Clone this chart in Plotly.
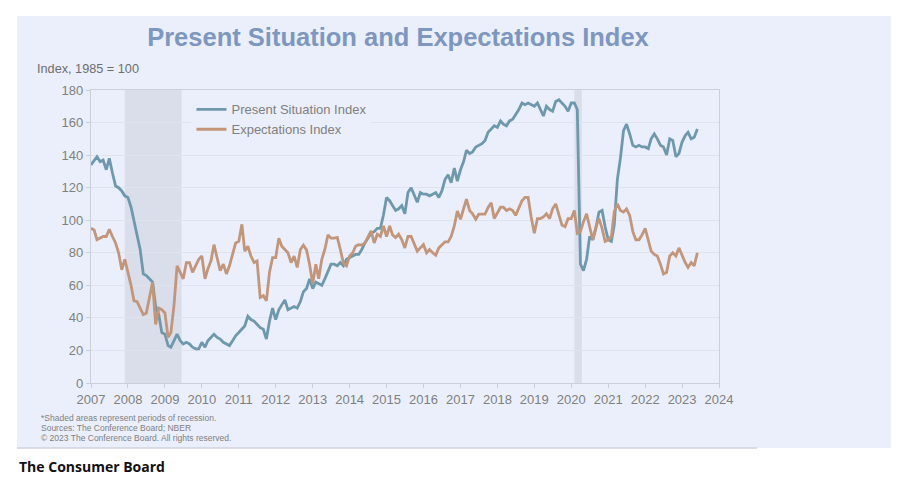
import pandas as pd
import plotly.graph_objects as go

# Monthly readings, Jan 2007 - Jun 2023 (Index, 1985 = 100)
present_situation = [
    134, 137, 139, 136, 137, 131, 138, 129, 121, 120, 118, 115,   # 2007
    114, 108, 99, 90, 82, 67, 66, 64, 62, 47, 42, 31,             # 2008
    30, 23, 22, 26, 30, 26, 24, 25, 24, 22, 21, 21,               # 2009
    25, 22, 26, 28, 30, 28, 27, 25, 24, 23, 26, 29,               # 2010
    31, 33, 35, 41, 39, 38, 36, 34, 33, 27, 38, 46,               # 2011
    39, 45, 48, 51, 45, 46, 47, 46, 50, 56, 58, 64,               # 2012
    58, 62, 61, 60, 64, 69, 73, 73, 72, 74, 72, 76,               # 2013
    77, 78, 79, 79, 82, 86, 89, 92, 93, 95, 95, 103,              # 2014
    114, 112, 109, 106, 107, 109, 104, 117, 120, 116, 111, 117,   # 2015
    116, 116, 115, 116, 117, 114, 118, 125, 128, 123, 132, 124,   # 2016
    131, 136, 143, 141, 142, 145, 146, 147, 149, 154, 156, 158,   # 2017
    157, 161, 159, 158, 161, 162, 165, 168, 172, 171, 172, 171,   # 2018
    170, 172, 168, 164, 170, 168, 167, 173, 174, 172, 170, 167,   # 2019
    172, 172, 168, 73, 69, 76, 90, 88, 95, 105, 106, 96,          # 2020
    88, 87, 97, 125, 138, 155, 159, 153, 146, 145, 146, 145,      # 2021
    145, 144, 150, 153, 150, 146, 145, 140, 150, 149, 139, 141,   # 2022
    148, 152, 154, 150, 151, 156,                                 # 2023
]

expectations = [
    95, 94, 88, 89, 90, 90, 94.5, 90, 86, 80, 69.5, 76,           # 2007
    68, 60, 50.5, 50, 46, 42, 43, 53.6, 62, 36, 46, 45,           # 2008
    43, 28, 31, 48, 72, 68, 64, 74, 74, 68, 72, 76,               # 2009
    78, 64, 70, 75, 85, 76, 69, 73, 67, 72, 79, 86,               # 2010
    87, 97.5, 81, 84, 78, 74, 75, 52.5, 53.6, 50.5, 68, 77,       # 2011
    77, 89, 84, 82, 80, 74, 78, 71, 82, 84.7, 81.8, 73,           # 2012
    61, 73, 64, 76, 82, 91, 89, 89, 89.4, 82, 73.6, 72,           # 2013
    78, 80, 84, 85, 84.7, 86, 90, 93.5, 86, 91.4, 90, 96.5,       # 2014
    90, 96.5, 91, 89.4, 91.4, 88, 83, 90, 90, 86, 81, 83,         # 2015
    85, 80, 82, 80, 78.5, 83, 84.7, 86.7, 86.7, 90, 96.5, 105.7,  # 2016
    100.6, 106.7, 113, 106, 104, 100.6, 103.7, 103.7, 103.7, 107.8, 110.8, 101,  # 2017
    105, 108, 108, 106, 107, 106, 103, 108, 112, 114, 114, 102,   # 2018
    92, 101, 101, 102, 104, 101, 107, 110, 104, 97, 96, 101,      # 2019
    101, 106, 92, 93, 99, 104, 96, 88, 96, 101, 95, 87,           # 2020
    88, 90, 105, 110, 106, 105, 107, 103, 93, 88, 88, 91,         # 2021
    95, 87, 81, 79, 78, 73, 67, 68, 78, 80, 78, 83,               # 2022
    78, 74, 71, 74, 72, 80,                                       # 2023
]

months = pd.date_range("2007-01-01", periods=len(present_situation), freq="MS")

recessions = [("2007-12-01", "2009-06-15"), ("2020-02-01", "2020-04-15")]

year_labels = [str(y) for y in range(2007, 2025)]
year_ticks = [f"{y}-01-01" for y in range(2007, 2025)]

footnotes = [
    "*Shaded areas represent periods of recession.",
    "Sources: The Conference Board; NBER",
    "\u00a9 2023 The Conference Board. All rights reserved.",
]

panel_bg = "#ebeffb"
grey_text = "#7f7f7f"

fig = go.Figure()

fig.add_trace(go.Scatter(
    x=months, y=present_situation, mode="lines",
    name="Present Situation Index",
    line=dict(color="#6e99ac", width=2.8),
))
fig.add_trace(go.Scatter(
    x=months, y=expectations, mode="lines",
    name="Expectations Index",
    line=dict(color="#c39579", width=2.8),
))

# lavender panel behind everything
fig.add_shape(type="rect", xref="paper", yref="paper",
              x0=-0.1178, x1=1.274, y0=-0.2218, y1=1.2526,
              fillcolor=panel_bg, line=dict(width=0), layer="below")
fig.add_shape(type="line", xref="paper", yref="paper",
              x0=-0.1178, x1=1.0605, y0=-0.2218, y1=-0.2218,
              line=dict(color="#cfd3de", width=1.5))

# recession shading
for start, end in recessions:
    fig.add_vrect(x0=start, x1=end, fillcolor="#dadeea", opacity=1,
                  line_width=0, layer="below")

fig.add_annotation(text="Index, 1985 = 100", xref="paper", yref="paper",
                   x=-0.0892, y=1.0717, xanchor="left", yanchor="middle",
                   showarrow=False, font=dict(size=12.7, color="#6e6e6e"))

for i, line in enumerate(footnotes):
    fig.add_annotation(text=line, xref="paper", yref="paper",
                       x=-0.0829, y=(383 - 418 - 10 * i) / 293,
                       xanchor="left", yanchor="middle", showarrow=False,
                       font=dict(size=8.5, color="#808080"))

fig.add_annotation(text="<b>The Consumer Board</b>", xref="paper", yref="paper",
                   x=-0.1178, y=(383 - 466) / 293, xanchor="left", yanchor="middle",
                   showarrow=False,
                   font=dict(size=14, color="#111111", family="Open Sans, sans-serif"))

fig.update_layout(
    width=900, height=487,
    margin=dict(l=83, r=189, t=82, b=112),
    paper_bgcolor="white",
    plot_bgcolor="rgba(0,0,0,0)",
    font=dict(family="Liberation Sans, Arial, sans-serif", color=grey_text, size=13),
    title=dict(text="<b>Present Situation and Expectations Index</b>",
               x=390 / 900, y=1 - 29 / 487, xanchor="center", yanchor="middle",
               font=dict(size=25.5, color="#7d97c1")),
    legend=dict(x=0.16, y=0.985, xanchor="left", yanchor="top",
                bgcolor=panel_bg, font=dict(size=13, color=grey_text),
                itemwidth=30, tracegroupgap=0),
    showlegend=True,
)

fig.update_xaxes(
    range=["2007-01-01", "2024-01-01"],
    tickvals=year_ticks, ticktext=year_labels,
    showgrid=False, showline=True, mirror=True,
    linecolor="#cbcfda", linewidth=1.3,
    ticks="outside", ticklen=4, tickcolor="#cbcfda",
    tickfont=dict(size=13, color=grey_text),
)
fig.update_yaxes(
    range=[0, 180], dtick=20,
    showgrid=True, gridcolor="#dfe3ee", gridwidth=1,
    showline=True, mirror=True, linecolor="#cbcfda", linewidth=1.3,
    ticks="outside", ticklen=4, tickcolor="#cbcfda",
    zeroline=False,
    tickfont=dict(size=13, color=grey_text),
)

fig.write_html("out.html")
